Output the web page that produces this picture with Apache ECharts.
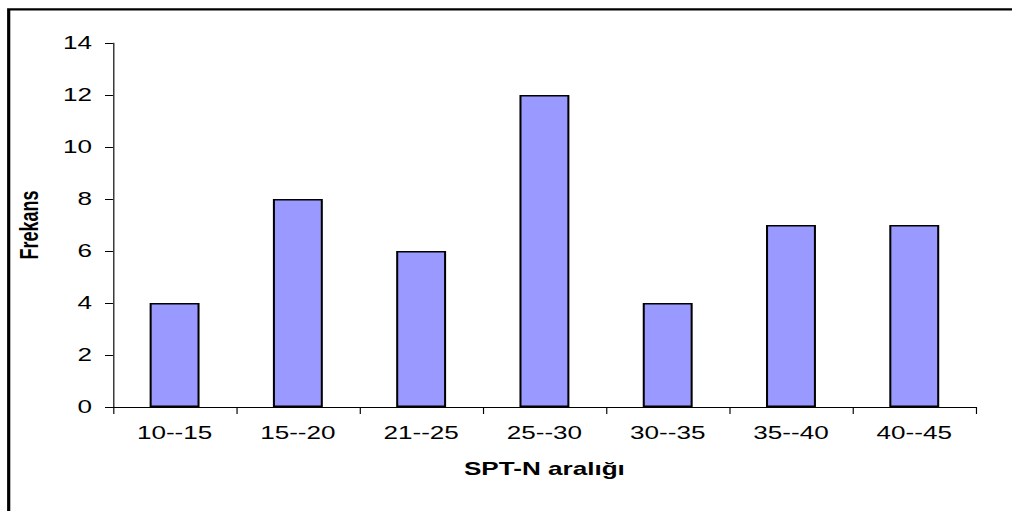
<!DOCTYPE html>
<html>
<head>
<meta charset="utf-8">
<script src="https://cdn.jsdelivr.net/npm/echarts@6/dist/echarts.min.js"></script>
<style>
html,body{margin:0;padding:0;overflow:hidden;background:#fff;width:1012px;height:511px;}
#chart{width:698px;height:511px;transform:scaleX(1.44986);transform-origin:0 0;}
</style>
</head>
<body>
<div id="chart"></div>
<script>
const categories = ['10--15','15--20','21--25','25--30','30--35','35--40','40--45'];
const frequencies = [4, 8, 6, 12, 4, 7, 7];
const yTicks = {min: 0, max: 14, interval: 2};
const xTitle = 'SPT-N aralığı';
const yTitle = 'Frekans';

const chart = echarts.init(document.getElementById('chart'), null, {renderer: 'svg'});
chart.setOption({
  backgroundColor: '#ffffff',
  animation: false,
  textStyle: {fontFamily: '"Liberation Sans", Arial, sans-serif'},
  grid: {left: 77.9, right: 24.9, top: 43, bottom: 104, containLabel: false},
  graphic: [{
    type: 'polyline',
    silent: true,
    shape: {points: [[6, 600], [6, 9.3], [900, 9.3]]},
    style: {stroke: '#000', lineWidth: 2.2, fill: null}
  }],
  xAxis: {
    type: 'category',
    data: categories,
    boundaryGap: true,
    name: xTitle,
    nameLocation: 'middle',
    nameGap: 53,
    nameTextStyle: {fontSize: 18, fontWeight: 'bold', color: '#000', fontFamily: '"Liberation Sans", Arial, sans-serif'},
    axisLine: {lineStyle: {color: '#000', width: 1.2}},
    axisTick: {show: true, alignWithLabel: false, length: 7, lineStyle: {color: '#000', width: 0.8}},
    axisLabel: {color: '#000', fontSize: 18, margin: 17, fontFamily: '"Liberation Sans", Arial, sans-serif'},
    splitLine: {show: false}
  },
  yAxis: {
    type: 'value',
    min: yTicks.min,
    max: yTicks.max,
    interval: yTicks.interval,
    name: yTitle,
    nameLocation: 'middle',
    nameRotate: 90,
    nameGap: 49,
    nameTextStyle: {fontSize: 18, fontWeight: 'bold', color: '#000', fontFamily: '"Liberation Sans", Arial, sans-serif'},
    axisLine: {show: true, lineStyle: {color: '#000', width: 0.8}},
    axisTick: {show: true, length: 5.5, lineStyle: {color: '#000', width: 1}},
    axisLabel: {color: '#000', fontSize: 18, margin: 14.5, fontFamily: '"Liberation Sans", Arial, sans-serif'},
    splitLine: {show: false}
  },
  series: [{
    type: 'bar',
    data: frequencies,
    barWidth: '40.5%',
    itemStyle: {color: '#9999FF', borderColor: '#000', borderWidth: 1.4}
  }]
});
</script>
</body>
</html>
